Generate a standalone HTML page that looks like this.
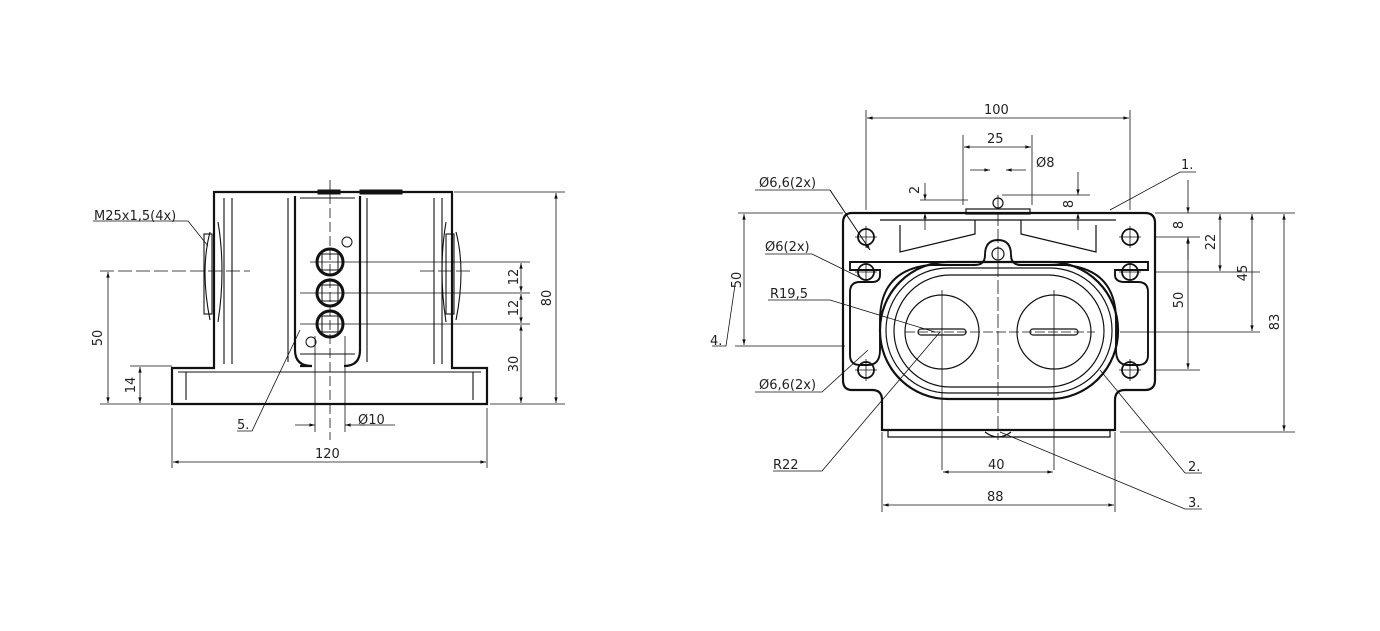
<!DOCTYPE html>
<html><head><meta charset="utf-8"><style>
html,body{margin:0;padding:0;background:#fff;}
svg{display:block;}
text{font-family:"DejaVu Sans","Liberation Sans",sans-serif;font-size:13px;fill:#222;}
</style></head><body>
<svg width="1380" height="631" viewBox="0 0 1380 631" xmlns="http://www.w3.org/2000/svg">
<defs>
<marker id="a" viewBox="0 0 10 10" refX="10" refY="5" markerWidth="12" markerHeight="7" orient="auto-start-reverse"><path d="M0,2 L10,5 L0,8 z" fill="#111"/></marker>
</defs>
<g stroke="#111" fill="none">
<!-- ===== LEFT VIEW ===== -->
<g stroke-width="2.2">
<path d="M214,192 H452 V368 H487 V404 H172 V368 H214 Z"/>
<path d="M295,196 V350 Q295,366 312,366 H300"/>
<path d="M360,196 V350 Q360,366 344,366"/>
</g>
<g stroke-width="1.1">
<path d="M224,198 V364 M442,198 V364 M232,198 V364 M434,198 V364"/>
<path d="M288,198 V362 M367,198 V362"/>
<path d="M300,354 H355 M300,198 H355"/>
<path d="M178,372 H481 M186,372 V400 M473,372 V400"/>
<path d="M210,232 Q200,270 210,320 M456,232 Q466,270 456,320"/>
<rect x="204" y="234" width="8" height="80"/><rect x="446" y="234" width="8" height="80"/>
<path d="M218,222 Q226,270 218,322 M446,222 Q438,270 446,322"/>
</g>
<rect x="318" y="190" width="22" height="4" fill="#111"/><rect x="360" y="190" width="42" height="4" fill="#111"/>
<g stroke-width="3"><circle cx="330" cy="262" r="13"/><circle cx="330" cy="293" r="13"/><circle cx="330" cy="324" r="13"/></g>
<g stroke-width="1"><rect x="322" y="254" width="16" height="16"/><rect x="322" y="285" width="16" height="16"/><rect x="322" y="316" width="16" height="16"/>
<circle cx="347" cy="242" r="5"/><circle cx="311" cy="342" r="5"/></g>
<g stroke-width="0.8">
<path d="M330,180 V440" stroke-dasharray="10,4"/>
<path d="M100,271 H250 M420,271 H470" stroke-dasharray="14,4"/>
<path d="M310,262 H530 M300,293 H530 M300,324 H530"/>
<path d="M315,336 V432 M345,336 V432"/>
<path d="M454,192 H565 M490,404 H565 M100,404 H170 M130,366 H172"/>
<path d="M172,408 V468 M487,408 V468"/>
<path d="M93,221 H188 L208,246"/>
<path d="M237,431 H252 L300,330"/>
<path d="M360,425 H395"/>
</g>
<g stroke-width="0.8" marker-start="url(#a)" marker-end="url(#a)">
<line x1="556" y1="193" x2="556" y2="403"/>
<line x1="521" y1="263" x2="521" y2="292"/>
<line x1="521" y1="294" x2="521" y2="323"/>
<line x1="521" y1="325" x2="521" y2="403"/>
<line x1="108" y1="272" x2="108" y2="403"/>
<line x1="140" y1="367" x2="140" y2="403"/>
<line x1="173" y1="462" x2="486" y2="462"/>
</g>
<g stroke-width="0.8" marker-end="url(#a)"><line x1="295" y1="425" x2="315" y2="425"/><line x1="365" y1="425" x2="345" y2="425"/></g>

<!-- ===== RIGHT VIEW ===== -->
<g stroke-width="2.2">
<path d="M852,213 H1145 Q1155,213 1155,223 V380 Q1155,390 1145,390 H1125 Q1115,390 1115,400 V430 H882 V400 Q882,390 872,390 H852 Q843,390 843,380 V223 Q843,213 852,213 Z"/>
<path d="M860,282 Q850,282 850,292 V355 Q850,365 860,365 H868 Q880,365 880,350 V320 Q880,270 930,265 H975 Q985,265 985,255 Q985,240 998,240 Q1011,240 1011,255 Q1011,265 1021,265 H1066 Q1116,270 1116,320 V350 Q1116,365 1128,365 H1138 Q1148,365 1148,355 V292 Q1148,282 1138,282 H1125 Q1115,282 1115,275 V270 H1148 V262 H850 V270 H880 V275 Q880,282 872,282 Z" stroke-width="1.9"/>
<rect x="880" y="262" width="238" height="137" rx="68"/>
</g>
<g stroke-width="1.2">
<rect x="886" y="268" width="226" height="125" rx="62"/>
<rect x="894" y="275" width="210" height="112" rx="56"/>
<circle cx="942" cy="332" r="37"/><circle cx="1054" cy="332" r="37"/>
<rect x="918" y="329" width="48" height="6" rx="3"/><rect x="1030" y="329" width="48" height="6" rx="3"/>
<path d="M900,225 V252 L975,234 V220 M1096,225 V252 L1021,234 V220 M880,220 H1116"/>
<rect x="966" y="209" width="64" height="5"/>
<circle cx="998" cy="203" r="5"/>
<circle cx="998" cy="254" r="6"/>
<path d="M888,430 V437 H1110 V430"/>
<path d="M985,432 Q998,442 1011,432"/>
</g>
<g stroke-width="1.8"><circle cx="866" cy="237" r="8"/><circle cx="866" cy="272" r="8"/><circle cx="866" cy="370" r="8"/>
<circle cx="1130" cy="237" r="8"/><circle cx="1130" cy="272" r="8"/><circle cx="1130" cy="370" r="8"/></g>
<g stroke-width="0.8">
<path d="M866,226 V248 M855,237 H877 M866,261 V283 M855,272 H877 M866,359 V381 M855,370 H877"/>
<path d="M1130,226 V248 M1119,237 H1141 M1130,261 V283 M1119,272 H1141 M1130,359 V381 M1119,370 H1141"/>
<path d="M998,195 V440" stroke-dasharray="14,3"/>
<path d="M905,332 H1095" stroke-dasharray="10,3"/>
<path d="M942,290 V470 M1054,290 V470"/>
<path d="M866,110 V210 M1130,110 V210 M963,135 V205 M1032,135 V205"/>
<path d="M882,432 V512 M1115,432 V512"/>
<path d="M738,213 H843 M735,346 H845 M1155,213 H1295 M1155,237 H1200 M1155,272 H1260 M1120,332 H1260 M1155,370 H1200 M1120,432 H1295"/>
<path d="M920,200 H968 M1002,195 H1090"/>
<path d="M755,190 H830 L870,250 M765,254 H812 L865,280 M768,300 H830 L935,332 M755,392 H822 L868,350"/>
<path d="M773,471 H822 L940,332 M1202,473 H1185 L1100,370 M1202,509 H1185 L1000,432 M1196,172 H1180 L1110,210 M712,346 H726 L735,285"/>
</g>
<g stroke-width="0.8" marker-start="url(#a)" marker-end="url(#a)">
<line x1="867" y1="118" x2="1129" y2="118"/>
<line x1="964" y1="147" x2="1031" y2="147"/>
<line x1="744" y1="214" x2="744" y2="345"/>
<line x1="1188" y1="238" x2="1188" y2="369"/>
<line x1="1220" y1="214" x2="1220" y2="271"/>
<line x1="1252" y1="214" x2="1252" y2="331"/>
<line x1="1284" y1="214" x2="1284" y2="431"/>
<line x1="943" y1="472" x2="1053" y2="472"/>
<line x1="883" y1="505" x2="1114" y2="505"/>
</g>
<g stroke-width="0.8" marker-end="url(#a)">
<line x1="925" y1="183" x2="925" y2="200"/><line x1="925" y1="230" x2="925" y2="213"/>
<line x1="1078" y1="172" x2="1078" y2="195"/><line x1="1078" y1="230" x2="1078" y2="213"/>
<line x1="1188" y1="180" x2="1188" y2="213"/><line x1="1188" y1="260" x2="1188" y2="237"/>
<line x1="970" y1="170" x2="990" y2="170"/><line x1="1026" y1="170" x2="1006" y2="170"/>
<line x1="830" y1="190" x2="870" y2="250"/>
</g>
</g>
<!-- text -->
<text x="94" y="220">M25x1,5(4x)</text>
<text x="237" y="429">5.</text>
<text x="358" y="424">Ø10</text>
<text x="315" y="458">120</text>
<text transform="translate(102,338) rotate(-90)" text-anchor="middle">50</text>
<text transform="translate(135,385) rotate(-90)" text-anchor="middle">14</text>
<text transform="translate(518,277) rotate(-90)" text-anchor="middle">12</text>
<text transform="translate(518,308) rotate(-90)" text-anchor="middle">12</text>
<text transform="translate(518,364) rotate(-90)" text-anchor="middle">30</text>
<text transform="translate(551,298) rotate(-90)" text-anchor="middle">80</text>
<text x="984" y="114">100</text>
<text x="987" y="143">25</text>
<text x="1036" y="167">Ø8</text>
<text x="1181" y="169">1.</text>
<text x="759" y="187">Ø6,6(2x)</text>
<text x="765" y="251">Ø6(2x)</text>
<text x="770" y="298">R19,5</text>
<text x="759" y="389">Ø6,6(2x)</text>
<text x="773" y="469">R22</text>
<text x="710" y="345">4.</text>
<text x="1188" y="471">2.</text>
<text x="1188" y="507">3.</text>
<text x="988" y="469">40</text>
<text x="987" y="501">88</text>
<text transform="translate(919,190) rotate(-90)" text-anchor="middle">2</text>
<text transform="translate(1073,204) rotate(-90)" text-anchor="middle">8</text>
<text transform="translate(741,280) rotate(-90)" text-anchor="middle">50</text>
<text transform="translate(1183,225) rotate(-90)" text-anchor="middle">8</text>
<text transform="translate(1215,242) rotate(-90)" text-anchor="middle">22</text>
<text transform="translate(1183,300) rotate(-90)" text-anchor="middle">50</text>
<text transform="translate(1247,273) rotate(-90)" text-anchor="middle">45</text>
<text transform="translate(1279,322) rotate(-90)" text-anchor="middle">83</text>
</svg>
</body></html>
